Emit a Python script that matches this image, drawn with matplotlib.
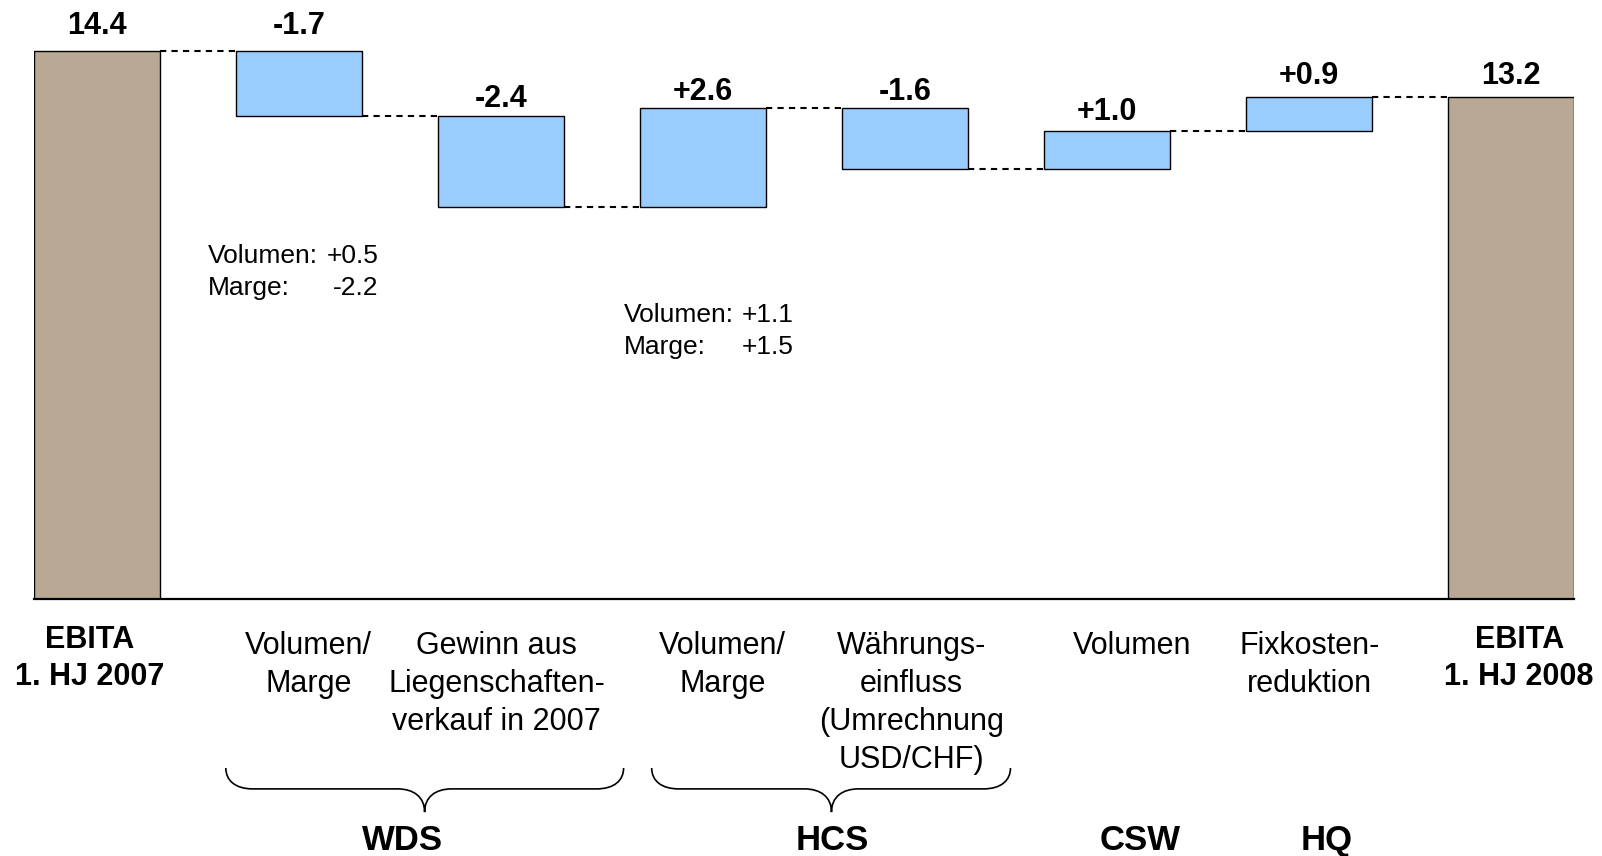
import numpy as np
import matplotlib.pyplot as plt
from matplotlib.path import Path
from matplotlib.patches import PathPatch

plt.rcParams['font.family'] = ['Liberation Sans', 'DejaVu Sans']

# Daten (Mio. CHF)
start_value = 14.4
end_value = 13.2
deltas = [-1.7, -2.4, 2.6, -1.6, 1.0, 0.9]

categories = [
    "EBITA\n1. HJ 2007",
    "Volumen/\nMarge",
    "Gewinn aus\nLiegenschaften-\nverkauf in 2007",
    "Volumen/\nMarge",
    "Währungs-\neinfluss\n(Umrechnung\nUSD/CHF)",
    "Volumen",
    "Fixkosten-\nreduktion",
    "EBITA\n1. HJ 2008",
]
groups = ["WDS", "HCS", "CSW", "HQ"]

notes_wds = [("Volumen:", "+0.5"), ("Marge:", "-2.2")]
notes_hcs = [("Volumen:", "+1.1"), ("Marge:", "+1.5")]

# Farben
TAN = "#B9A994"
BLUE = "#99CCFF"

# Wasserfall berechnen
n = len(deltas) + 2
bottoms = np.zeros(n)
heights = np.zeros(n)
levels = np.zeros(n)
heights[0] = start_value
levels[0] = start_value
run = start_value
for i, d in enumerate(deltas):
    new = run + d
    bottoms[i + 1] = min(run, new)
    heights[i + 1] = abs(d)
    levels[i + 1] = new
    run = new
heights[-1] = end_value
levels[-1] = end_value
tops = bottoms + heights

value_labels = [f"{start_value:.1f}"] + [f"{d:+.1f}" for d in deltas] + [f"{end_value:.1f}"]
colors = [TAN] + [BLUE] * len(deltas) + [TAN]

# Figur
fig = plt.figure(figsize=(16.02, 8.56), dpi=100)
ax = fig.add_axes([34 / 1602, 257 / 856, 1540 / 1602, 599 / 856])

x = np.arange(n)
bw = 0.623
ax.bar(x, heights, bottom=bottoms, width=bw, color=colors, edgecolor="black", linewidth=1.0, zorder=2)

ax.set_xlim(-bw / 2, n - 1 + bw / 2)
ax.set_ylim(0, 15.74)
for s in ["top", "left", "right"]:
    ax.spines[s].set_visible(False)
ax.spines["bottom"].set_linewidth(1.6)
ax.set_xticks([])
ax.set_yticks([])

# Verbindungslinien
for i in range(n - 1):
    ax.plot([i + bw / 2, i + 1 - bw / 2], [levels[i], levels[i]], color="black",
            linewidth=1.5, linestyle=(0, (3, 2.5)), zorder=1)

# Werte über den Balken
label_pad = [12.5, 12.5, 6.5, 6, 6, 7.5, 9, 9]
for i in range(n):
    ax.annotate(value_labels[i], (x[i], tops[i]), xytext=(0, label_pad[i]), textcoords="offset points",
                ha="center", va="baseline", fontsize=22, fontweight="bold")

# Kategorienbeschriftungen
label_dx = [-0.035, 0.046, -0.021, 0.097, 0.032, 0.126, 0.001, 0.040]
for i, lab in enumerate(categories):
    bold = i in (0, n - 1)
    ax.text(x[i] + label_dx[i], -0.683 if bold else -0.83, lab, ha="center", va="top",
            multialignment="center", fontsize=22, linespacing=1.3 if bold else 1.35,
            fontweight="bold" if bold else "normal")

# Zusatzangaben
def notes(rows, x_left, x_right, y0, dy):
    for k, (name, val) in enumerate(rows):
        y = y0 - k * dy
        ax.text(x_left, y, name, ha="left", va="baseline", fontsize=19)
        ax.text(x_right, y, val, ha="right", va="baseline", fontsize=19)

notes(notes_wds, 0.551, 1.395, 8.83, 0.83)
notes(notes_hcs, 2.607, 3.448, 7.28, 0.83)

# Geschweifte Klammern
def brace(x0, x1, xt, ytop, yflat, ytip, r):
    h_end = ytop - yflat
    h_tip = yflat - ytip
    verts = [
        (x0, ytop),
        (x0, ytop - 0.6 * h_end), (x0 + 0.35 * r, yflat), (x0 + r, yflat),
        (xt - r, yflat),
        (xt - 0.4 * r, yflat), (xt, yflat - 0.35 * h_tip), (xt, ytip),
        (xt, yflat - 0.35 * h_tip), (xt + 0.4 * r, yflat), (xt + r, yflat),
        (x1 - r, yflat),
        (x1 - 0.35 * r, yflat), (x1, ytop - 0.6 * h_end), (x1, ytop),
    ]
    codes = [Path.MOVETO,
             Path.CURVE4, Path.CURVE4, Path.CURVE4,
             Path.LINETO,
             Path.CURVE4, Path.CURVE4, Path.CURVE4,
             Path.CURVE4, Path.CURVE4, Path.CURVE4,
             Path.LINETO,
             Path.CURVE4, Path.CURVE4, Path.CURVE4]
    ax.add_patch(PathPatch(Path(verts, codes), fill=False, edgecolor="black",
                           linewidth=1.2, clip_on=False))

brace(0.638, 2.607, 1.622, -4.44, -4.99, -5.60, 0.134)
brace(2.746, 4.522, 3.636, -4.44, -4.99, -5.60, 0.134)

# Gruppen
group_x = [1.513, 3.641, 5.166, 6.086]
for gx, g in zip(group_x, groups):
    ax.text(gx, -6.6, g, ha="center", va="baseline", fontsize=25, fontweight="bold")

fig.savefig("out.png", dpi=100)
